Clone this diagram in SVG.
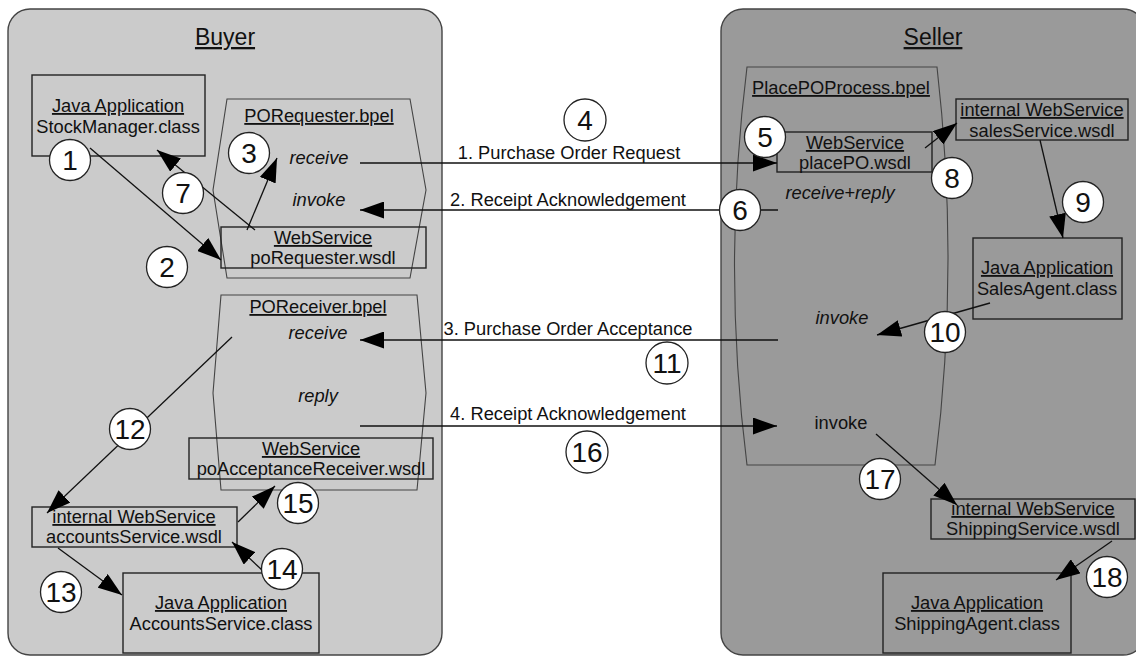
<svg xmlns="http://www.w3.org/2000/svg" width="1136" height="657" viewBox="0 0 1136 657">
  <style>
    .t { font-family: "Liberation Sans", Arial, sans-serif; font-size: 18.3px; text-anchor: middle; fill: #111; }
    .u { text-decoration: underline; }
    .i { font-style: italic; }
    .title { font-size: 23px; }
    .box { fill: none; stroke: #222; stroke-width: 1.4; }
    .bpel { fill: none; stroke: #444; stroke-width: 1.1; }
    .num circle { fill: #fff; stroke: #222; stroke-width: 1.3; }
    .num text { font-family: "Liberation Sans", Arial, sans-serif; font-size: 28px; text-anchor: middle; fill: #111; }
    .free circle { fill: none; }
    #connectors line { stroke: #111; stroke-width: 1.3; }
    #connectors line.a { marker-end: url(#head); }
  </style>
  <defs>
    <marker id="head" markerUnits="userSpaceOnUse" markerWidth="24" markerHeight="17" refX="24" refY="8.5" orient="auto">
      <path d="M0,0 L24,8.5 L0,17 Z" fill="#000"/>
    </marker>
  </defs>

  <rect width="1136" height="657" fill="#fff"/>

  <!-- Partner panels -->
  <g id="buyer">
    <rect x="8" y="9" width="434" height="646" rx="22" fill="#cbcbcb" stroke="#444" stroke-width="1.4"/>
    <text class="t u title" x="225" y="45">Buyer</text>
  </g>
  <g id="seller">
    <rect x="721" y="9" width="424" height="646" rx="22" fill="#9a9a9a" stroke="#444" stroke-width="1.4"/>
    <text class="t u title" x="933" y="45">Seller</text>
  </g>

  <!-- Buyer processes -->
  <g id="po-requester-bpel">
    <path class="bpel" d="M227,99 L410,99 L426,190 L410,278 L227,278 L213,190 Z"/>
    <text class="t u" x="319" y="122">PORequester.bpel</text>
    <text class="t i" x="319" y="164">receive</text>
    <text class="t i" x="319" y="206">invoke</text>
  </g>
  <g id="po-receiver-bpel">
    <path class="bpel" d="M221,295 L417,295 L426,393 L417,490 L221,490 L213,393 Z"/>
    <text class="t u" x="318" y="313">POReceiver.bpel</text>
    <text class="t i" x="318" y="339">receive</text>
    <text class="t i" x="318" y="402">reply</text>
  </g>

  <!-- Seller process -->
  <g id="place-po-bpel">
    <path class="bpel" d="M747,67 L937,67 Q960,267 935,465 L747,465 Q722,267 747,67 Z"/>
    <text class="t u" x="841" y="94">PlacePOProcess.bpel</text>
    <text class="t i" x="840" y="199">receive+reply</text>
    <text class="t i" x="842" y="324">invoke</text>
    <text class="t" x="841" y="429">invoke</text>
  </g>

  <!-- Buyer components -->
  <g id="stock-manager">
    <rect class="box" x="32" y="75" width="173" height="81"/>
    <text class="t u" x="118" y="112">Java Application</text>
    <text class="t" x="118" y="133">StockManager.class</text>
  </g>
  <g id="po-requester-wsdl">
    <rect class="box" x="221" y="227" width="205" height="41"/>
    <text class="t u" x="323" y="244">WebService</text>
    <text class="t" x="323" y="264">poRequester.wsdl</text>
  </g>
  <g id="po-acceptance-receiver-wsdl">
    <rect class="box" x="189" y="438" width="244" height="41"/>
    <text class="t u" x="311" y="455">WebService</text>
    <text class="t" x="311" y="475">poAcceptanceReceiver.wsdl</text>
  </g>
  <g id="accounts-service-wsdl">
    <rect class="box" x="32" y="507" width="205" height="40"/>
    <text class="t u" x="134" y="523">internal WebService</text>
    <text class="t" x="134" y="543">accountsService.wsdl</text>
  </g>
  <g id="accounts-service-class">
    <rect class="box" x="123" y="573" width="196" height="80"/>
    <text class="t u" x="221" y="609">Java Application</text>
    <text class="t" x="221" y="630">AccountsService.class</text>
  </g>

  <!-- Seller components -->
  <g id="place-po-wsdl">
    <rect class="box" x="777" y="132" width="155" height="40"/>
    <text class="t u" x="855" y="149">WebService</text>
    <text class="t" x="855" y="169">placePO.wsdl</text>
  </g>
  <g id="sales-service-wsdl">
    <rect class="box" x="956" y="99" width="172" height="41"/>
    <text class="t u" x="1042" y="116">internal WebService</text>
    <text class="t" x="1042" y="137">salesService.wsdl</text>
  </g>
  <g id="sales-agent-class">
    <rect class="box" x="973" y="238" width="149" height="81"/>
    <text class="t u" x="1047" y="274">Java Application</text>
    <text class="t" x="1047" y="295">SalesAgent.class</text>
  </g>
  <g id="shipping-service-wsdl">
    <rect class="box" x="931" y="499" width="204" height="40"/>
    <text class="t u" x="1033" y="515">internal WebService</text>
    <text class="t" x="1033" y="535">ShippingService.wsdl</text>
  </g>
  <g id="shipping-agent-class">
    <rect class="box" x="883" y="573" width="188" height="80"/>
    <text class="t u" x="977" y="609">Java Application</text>
    <text class="t" x="977" y="630">ShippingAgent.class</text>
  </g>

  <!-- Connectors and message flows -->
  <g id="connectors">
    <line class="a" x1="90" y1="148" x2="221" y2="260"/>
    <line class="a" x1="247" y1="230" x2="277" y2="158"/>
    <line class="a" x1="255" y1="230" x2="157" y2="150"/>
    <line class="a" x1="360" y1="163" x2="777" y2="163"/>
    <line class="a" x1="778" y1="210" x2="360" y2="210"/>
    <line class="a" x1="925" y1="148" x2="957" y2="123"/>
    <line class="a" x1="1040" y1="140" x2="1063" y2="238"/>
    <line class="a" x1="990" y1="303" x2="877" y2="335"/>
    <line class="a" x1="778" y1="340" x2="360" y2="340"/>
    <line class="a" x1="360" y1="426" x2="777" y2="426"/>
    <line class="a" x1="876" y1="434" x2="957" y2="505"/>
    <line class="a" x1="1112" y1="541" x2="1056" y2="580"/>
    <line class="a" x1="232" y1="337" x2="47" y2="513"/>
    <line class="a" x1="58" y1="548" x2="122" y2="595"/>
    <line class="a" x1="262" y1="570" x2="232" y2="542"/>
    <line class="a" x1="238" y1="522" x2="275" y2="486"/>
    <text class="t" x="569" y="159">1. Purchase Order Request</text>
    <text class="t" x="568" y="206">2. Receipt Acknowledgement</text>
    <text class="t" x="568" y="335">3. Purchase Order Acceptance</text>
    <text class="t" x="568" y="420">4. Receipt Acknowledgement</text>
  </g>

  <!-- Step markers -->
  <g id="steps" class="num">
    <g><circle cx="70" cy="160" r="20.5"/><text x="70" y="170">1</text></g>
    <g><circle cx="167" cy="267" r="20.5"/><text x="167" y="277">2</text></g>
    <g><circle cx="249" cy="153" r="20.5"/><text x="249" y="163">3</text></g>
    <g class="free"><circle cx="585" cy="120" r="21"/><text x="585" y="130">4</text></g>
    <g><circle cx="765" cy="137" r="20.5"/><text x="765" y="147">5</text></g>
    <g><circle cx="740" cy="210" r="20.5"/><text x="740" y="220">6</text></g>
    <g><circle cx="183" cy="193" r="20.5"/><text x="183" y="203">7</text></g>
    <g><circle cx="952" cy="178" r="20.5"/><text x="952" y="188">8</text></g>
    <g><circle cx="1083" cy="202" r="20.5"/><text x="1083" y="212">9</text></g>
    <g><circle cx="945" cy="332" r="20.5"/><text x="945" y="342">10</text></g>
    <g class="free"><circle cx="667" cy="363" r="21"/><text x="667" y="373">11</text></g>
    <g><circle cx="130" cy="429" r="20.5"/><text x="130" y="439">12</text></g>
    <g><circle cx="61" cy="592" r="20.5"/><text x="61" y="602">13</text></g>
    <g><circle cx="282" cy="569" r="20.5"/><text x="282" y="579">14</text></g>
    <g><circle cx="298" cy="503" r="20.5"/><text x="298" y="513">15</text></g>
    <g class="free"><circle cx="587" cy="452" r="21"/><text x="587" y="462">16</text></g>
    <g><circle cx="880" cy="479" r="20.5"/><text x="880" y="489">17</text></g>
    <g><circle cx="1107" cy="577" r="20.5"/><text x="1107" y="587">18</text></g>
  </g>
</svg>
